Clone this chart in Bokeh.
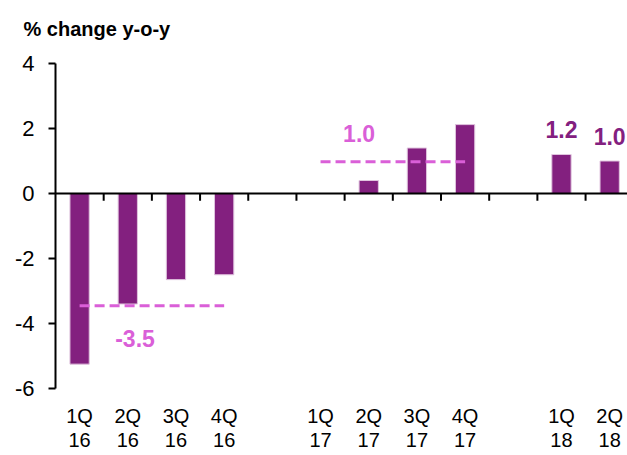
from bokeh.plotting import figure
from bokeh.models import FixedTicker, Span
from bokeh.core.properties import value
from bokeh.embed import file_html
from bokeh.resources import INLINE

# ---- data ----
quarters = ["1Q", "2Q", "3Q", "4Q", "", "1Q", "2Q", "3Q", "4Q", "", "1Q", "2Q"]
years = ["16", "16", "16", "16", "", "17", "17", "17", "17", "", "18", "18"]
growth = [-5.25, -3.4, -2.65, -2.5, None, 0.0, 0.4, 1.4, 2.12, None, 1.2, 1.0]
avg_groups = {"2016": [0, 1, 2, 3], "2017": [5, 6, 7, 8]}
labelled_slots = [10, 11]
y_ticks = [-6, -4, -2, 0, 2, 4]
y_title = "% change y-o-y"

BAR = "#83207f"
PINK = "#da5fd8"
FONT = "Liberation Sans"

n = len(quarters)
centers = [i + 0.5 for i in range(n)]
bx = [c for c, v in zip(centers, growth) if v is not None]
bv = [v for v in growth if v is not None]

p = figure(frame_width=572, frame_height=325, output_backend="svg", toolbar_location=None,
           x_range=(0, 11.87), y_range=(-6, 4),
           min_border_left=55, min_border_top=63, min_border_right=0, min_border_bottom=0)
p.outline_line_color = None
p.grid.grid_line_color = None
p.background_fill_color = "white"

p.title.text = y_title + "\n "
p.title.text_font = FONT
p.title.text_font_style = "bold"
p.title.text_font_size = "20px"
p.title.text_color = "black"
p.title.align = "left"
p.title.offset = -32
p.title.standoff = 4

p.vbar(x=bx, top=bv, bottom=0, width=0.4, fill_color=BAR, line_color="#e0c4de", line_width=1)

# zero line with category-boundary ticks
p.add_layout(Span(location=0, dimension="width", line_color="black", line_width=2))
bounds = list(range(1, n + 1))
p.segment(x0=bounds, x1=bounds, y0=[0] * len(bounds), y1=[-0.22] * len(bounds),
          line_color="black", line_width=2)

# averages
for key, idx in avg_groups.items():
    vals = [growth[i] for i in idx]
    avg = sum(vals) / len(vals)
    x0 = centers[idx[0]]
    x1 = centers[idx[-1]]
    p.segment(x0=[x0], x1=[x1], y0=[avg], y1=[avg], line_color=PINK, line_width=3,
              line_dash="10 5")
    above = avg > 0
    p.text(x=[centers[idx[1]] + (-0.2 if above else 0.15)], y=[avg], text=[f"{avg:.1f}"],
           text_color=PINK, text_font=value(FONT), text_font_style="bold",
           text_font_size="23px", text_align="center", text_baseline="middle",
           y_offset=(-28 if above else 33))

for i in labelled_slots:
    p.text(x=[centers[i]], y=[growth[i]], text=[f"{growth[i]:.1f}"],
           text_color=BAR, text_font=value(FONT), text_font_style="bold",
           text_font_size="23px", text_align="center", text_baseline="middle",
           y_offset=-25)

# y axis
ya = p.yaxis[0]
ya.ticker = FixedTicker(ticks=y_ticks)
ya.major_label_overrides = {t: str(t) for t in y_ticks}
ya.minor_tick_line_color = None
ya.major_tick_in = 0
ya.major_tick_out = 7
ya.major_tick_line_width = 2
ya.axis_line_width = 2
ya.major_label_standoff = 14
ya.major_label_text_font = FONT
ya.major_label_text_font_size = "22px"
ya.major_label_text_color = "black"

# x axis: labels only
xa = p.xaxis[0]
xa.ticker = FixedTicker(ticks=centers)
xa.major_label_overrides = {c: (f"{q}\n{y}" if q else "") for c, q, y in zip(centers, quarters, years)}
xa.axis_line_color = None
xa.major_tick_line_color = None
xa.minor_tick_line_color = None
xa.major_label_standoff = 10
xa.major_label_text_font = FONT
xa.major_label_text_font_size = "20px"
xa.major_label_text_color = "black"
xa.major_label_text_line_height = 1.1

open("out.html", "w").write(file_html(p, INLINE))
